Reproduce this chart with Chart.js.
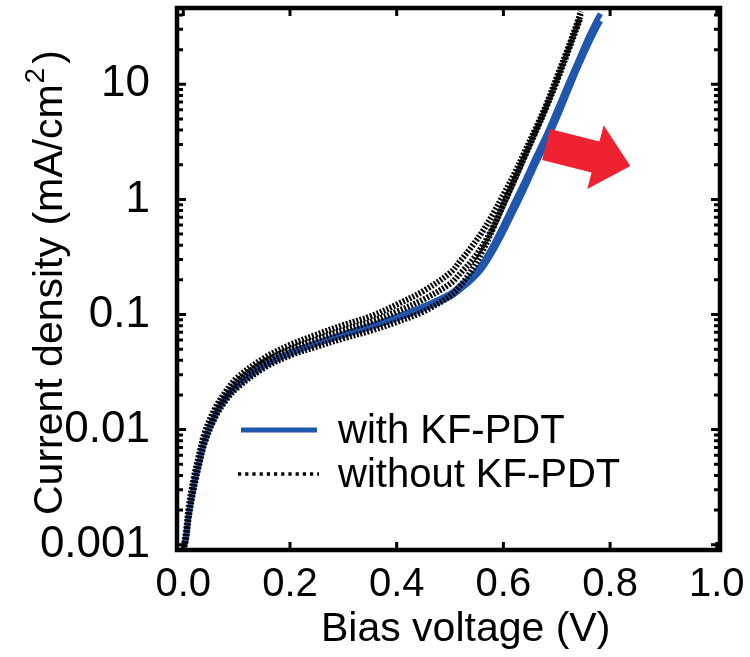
<!DOCTYPE html>
<html lang="en">
<head>
<meta charset="UTF-8">
<title>Current density vs bias voltage</title>
<script src="https://cdn.jsdelivr.net/npm/chart.js@4.4.0/dist/chart.umd.min.js"></script>
<style>
  html, body { margin: 0; padding: 0; background: #fff; }
</style>
</head>
<body>
<canvas id="jv" width="750" height="657"></canvas>
<script>
// bias voltage (V)
var vWith    = [0.000, 0.005, 0.010, 0.020, 0.030, 0.040, 0.060, 0.080, 0.100, 0.150, 0.200, 0.250, 0.300, 0.350, 0.400, 0.450, 0.500, 0.520, 0.540, 0.560, 0.580, 0.600, 0.620, 0.640, 0.660, 0.680, 0.700, 0.720, 0.740, 0.760, 0.775, 0.782];
// current density (mA/cm2), with KF-PDT (two measured cells)
var jWithA   = [0.00090, 0.0012, 0.0018, 0.0034, 0.0054, 0.0082, 0.0138, 0.0193, 0.0245, 0.0365, 0.0470, 0.0570, 0.0680, 0.0800, 0.0960, 0.1180, 0.1520, 0.1800, 0.2150, 0.2750, 0.3950, 0.6000, 0.9300, 1.45, 2.30, 3.60, 5.90, 9.80, 16.0, 26.0, 36.0, 41.0];
var jWithB   = [0.00090, 0.0011, 0.0017, 0.0032, 0.0051, 0.0078, 0.0132, 0.0186, 0.0236, 0.0352, 0.0455, 0.0555, 0.0660, 0.0770, 0.0920, 0.1120, 0.1420, 0.1660, 0.1980, 0.2500, 0.3500, 0.5200, 0.8000, 1.25, 2.00, 3.10, 5.00, 8.40, 14.0, 22.5, 31.0, 35.5];

var vWithout  = [0.000, 0.005, 0.010, 0.020, 0.030, 0.040, 0.060, 0.080, 0.100, 0.150, 0.200, 0.250, 0.300, 0.350, 0.400, 0.450, 0.500, 0.520, 0.540, 0.560, 0.580, 0.600, 0.620, 0.640, 0.660, 0.680, 0.700, 0.720, 0.740, 0.745];
// current density (mA/cm2), without KF-PDT (three measured cells)
var jWithoutA = [0.00090, 0.0012, 0.0019, 0.0036, 0.0058, 0.0088, 0.0145, 0.0200, 0.0260, 0.0385, 0.0500, 0.0610, 0.0730, 0.0860, 0.1060, 0.1350, 0.1850, 0.2300, 0.2900, 0.3900, 0.5700, 0.9000, 1.45, 2.40, 3.90, 6.40, 11.0, 19.5, 35.0, 41.0];
var jWithoutB = [0.00090, 0.0013, 0.0021, 0.0039, 0.0062, 0.0094, 0.0155, 0.0215, 0.0280, 0.0415, 0.0545, 0.0670, 0.0810, 0.0960, 0.1220, 0.1600, 0.2300, 0.2950, 0.3850, 0.5200, 0.7400, 1.10, 1.65, 2.60, 4.10, 6.60, 11.5, 20.0, 36.0, 43.0];
var jWithoutC = [0.00090, 0.0011, 0.0017, 0.0031, 0.0050, 0.0076, 0.0128, 0.0180, 0.0228, 0.0340, 0.0440, 0.0525, 0.0620, 0.0720, 0.0860, 0.1060, 0.1450, 0.1800, 0.2400, 0.3500, 0.5500, 0.9000, 1.45, 2.35, 3.80, 6.20, 10.5, 18.5, 33.0, 38.0];

var seriesLabels = ['with KF-PDT', 'without KF-PDT'];
var xTitle = 'Bias voltage (V)';
var yTitle = ['Current density (mA/cm', '2', ')'];

var xTicks = [0.0, 0.2, 0.4, 0.6, 0.8, 1.0];
var yMajor = [0.001, 0.01, 0.1, 1, 10];
var yTickLabels = ['0.001', '0.01', '0.1', '1', '10'];
var yMinor = [0.002, 0.003, 0.004, 0.005, 0.006, 0.007, 0.008, 0.009,
              0.02, 0.03, 0.04, 0.05, 0.06, 0.07, 0.08, 0.09,
              0.2, 0.3, 0.4, 0.5, 0.6, 0.7, 0.8, 0.9,
              2, 3, 4, 5, 6, 7, 8, 9, 20, 30, 40];

var FONT = 'Liberation Sans, Arial, Helvetica, sans-serif';
var BLUE = '#2156ad';

function pts(xs, ys) {
    return xs.map(function (x, i) { return { x: x, y: ys[i] }; });
}

// frame, inward ticks on all four sides, axis titles, legend and the red arrow
var decorations = {
    id: 'decorations',
    afterDatasetsDraw: function (chart) {
        var ctx = chart.ctx, a = chart.chartArea;
        var xs = chart.scales.x, ys = chart.scales.y;
        ctx.save();
        ctx.strokeStyle = '#000';
        ctx.lineWidth = 3;
        xTicks.forEach(function (v) {
            var px = xs.getPixelForValue(v);
            ctx.beginPath();
            ctx.moveTo(px, a.bottom); ctx.lineTo(px, a.bottom - 8);
            ctx.moveTo(px, a.top); ctx.lineTo(px, a.top + 8);
            ctx.stroke();
        });
        yMajor.concat(yMinor).forEach(function (v) {
            var py = ys.getPixelForValue(v);
            var len = yMajor.indexOf(v) >= 0 ? 9 : 6;
            ctx.beginPath();
            ctx.moveTo(a.left, py); ctx.lineTo(a.left + len, py);
            ctx.moveTo(a.right, py); ctx.lineTo(a.right - len, py);
            ctx.stroke();
        });
        ctx.lineWidth = 4.5;
        ctx.strokeRect(a.left, a.top, a.right - a.left, a.bottom - a.top);

        ctx.fillStyle = '#000';
        ctx.textAlign = 'left';

        // x title (sits a little right of the axis centre in the original)
        ctx.font = '41px ' + FONT;
        ctx.textBaseline = 'alphabetic';
        ctx.fillText(xTitle, xs.getPixelForValue(0.258), 641);

        // y title with raised 2
        ctx.save();
        ctx.translate(62, 515);
        ctx.rotate(-Math.PI / 2);
        ctx.font = '41px ' + FONT;
        ctx.fillText(yTitle[0], 0, 0);
        var w0 = ctx.measureText(yTitle[0]).width;
        ctx.font = '28px ' + FONT;
        ctx.fillText(yTitle[1], w0 + 1, -18);
        var w1 = ctx.measureText(yTitle[1]).width;
        ctx.font = '41px ' + FONT;
        ctx.fillText(yTitle[2], w0 + w1 + 5, 0);
        ctx.restore();

        // legend
        var lx = a.left + 64, ly1 = a.top + 422, ly2 = a.top + 466;
        ctx.lineWidth = 5;
        ctx.strokeStyle = BLUE;
        ctx.beginPath(); ctx.moveTo(lx, ly1); ctx.lineTo(lx + 76, ly1); ctx.stroke();
        ctx.strokeStyle = '#000';
        ctx.lineWidth = 3.5;
        ctx.setLineDash([3.2, 4]);
        ctx.beginPath(); ctx.moveTo(lx - 3, ly2); ctx.lineTo(lx + 78, ly2); ctx.stroke();
        ctx.setLineDash([]);
        ctx.font = '40px ' + FONT;
        ctx.textBaseline = 'middle';
        ctx.fillText(seriesLabels[0], lx + 97, ly1 + 2);
        ctx.fillText(seriesLabels[1], lx + 97, ly2 + 2);

        // red arrow pointing to higher voltage
        var p0 = { x: xs.getPixelForValue(0.68), y: ys.getPixelForValue(3.0) };
        var p1 = { x: xs.getPixelForValue(0.838), y: ys.getPixelForValue(1.95) };
        var dx = p1.x - p0.x, dy = p1.y - p0.y, L = Math.sqrt(dx * dx + dy * dy);
        var ux = dx / L, uy = dy / L, nx = -uy, ny = ux;
        var sw = 16, hw = 33, hl = 36;
        var bx = p1.x - ux * hl, by = p1.y - uy * hl;
        ctx.fillStyle = '#ee2230';
        ctx.beginPath();
        ctx.moveTo(p0.x - nx * sw, p0.y - ny * sw);
        ctx.lineTo(bx - nx * sw, by - ny * sw);
        ctx.lineTo(bx - nx * hw, by - ny * hw);
        ctx.lineTo(p1.x, p1.y);
        ctx.lineTo(bx + nx * hw, by + ny * hw);
        ctx.lineTo(bx + nx * sw, by + ny * sw);
        ctx.lineTo(p0.x + nx * sw, p0.y + ny * sw);
        ctx.closePath();
        ctx.fill();
        ctx.restore();
    }
};

var dotted = { borderColor: '#000', borderWidth: 6, borderDash: [2, 1.6], pointRadius: 0, tension: 0.35, fill: false, order: 0 };
var solid = { borderColor: BLUE, borderWidth: 5.5, pointRadius: 0, tension: 0.35, fill: false, order: 1 };

new Chart(document.getElementById('jv'), {
    type: 'line',
    data: {
        datasets: [
            Object.assign({ label: seriesLabels[0], data: pts(vWith, jWithA) }, solid),
            Object.assign({ label: seriesLabels[0] + ' (2)', data: pts(vWith, jWithB) }, solid),
            Object.assign({ label: seriesLabels[1], data: pts(vWithout, jWithoutA) }, dotted),
            Object.assign({ label: seriesLabels[1] + ' (2)', data: pts(vWithout, jWithoutB) }, dotted),
            Object.assign({ label: seriesLabels[1] + ' (3)', data: pts(vWithout, jWithoutC) }, dotted)
        ]
    },
    options: {
        responsive: false,
        animation: false,
        layout: { padding: { top: 8, right: 30, left: 0, bottom: 0 } },
        plugins: { legend: { display: false }, tooltip: { enabled: false } },
        scales: {
            x: {
                type: 'linear',
                min: -0.0118,
                max: 1.006,
                afterBuildTicks: function (s) { s.ticks = xTicks.map(function (v) { return { value: v }; }); },
                afterFit: function (s) { s.height = 107; s.paddingLeft = 0; s.paddingRight = 0; },
                grid: { display: false, drawTicks: false },
                border: { display: false },
                ticks: {
                    autoSkip: false, maxRotation: 0, padding: 11, color: '#000',
                    font: { family: FONT, size: 40 },
                    callback: function (v) { return v.toFixed(1); }
                }
            },
            y: {
                type: 'logarithmic',
                min: 0.0009,
                max: 46,
                afterBuildTicks: function (s) {
                    s.ticks = yMajor.map(function (v) { return { value: v, major: true }; });
                },
                afterFit: function (s) { s.width = 177; s.paddingTop = 0; s.paddingBottom = 0; },
                grid: { display: false, drawTicks: false },
                border: { display: false },
                ticks: {
                    autoSkip: false, padding: 27, color: '#000',
                    font: { family: FONT, size: 44 },
                    callback: function (v) {
                        var i = yMajor.indexOf(v);
                        return i >= 0 ? yTickLabels[i] : '';
                    }
                }
            }
        }
    },
    plugins: [decorations]
});
</script>
</body>
</html>
